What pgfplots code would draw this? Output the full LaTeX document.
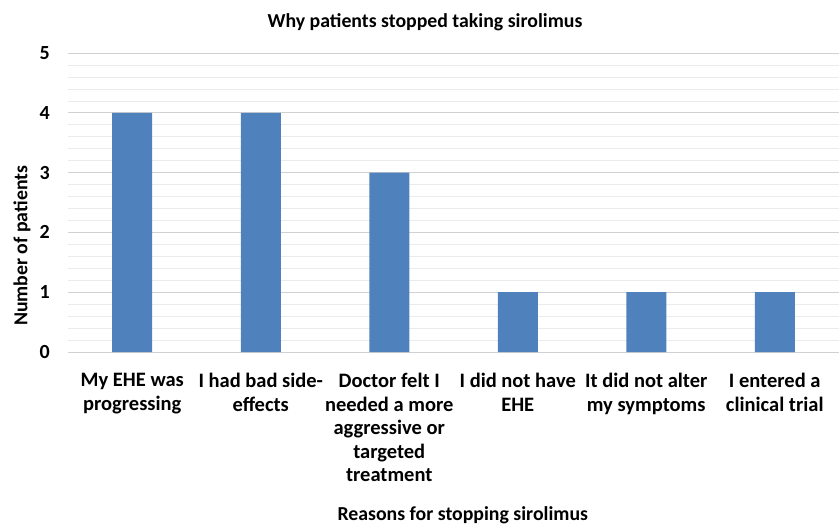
\documentclass[border=0pt]{standalone}
\usepackage{pgfplots}
\pgfplotsset{compat=1.18}
\usepackage{fontspec}
\setmainfont{Carlito}
\definecolor{barblue}{HTML}{4F81BD}
\begin{document}
\begin{tikzpicture}
\useasboundingbox (-68pt,-175pt) rectangle (772pt,352pt);
\begin{axis}[
  at={(0pt,0pt)}, anchor=south west,
  scale only axis, width=771pt, height=299pt,
  xmin=-0.5, xmax=5.5, ymin=0, ymax=5,
  xtick={0,1,2,3,4,5},
  xticklabels={{My EHE was\\progressing},{I had bad side-\\effects},{Doctor felt I\\needed a more\\aggressive or\\targeted\\treatment},{I did not have\\EHE},{It did not alter\\my symptoms},{I entered a\\clinical trial}},
  x tick label style={align=center, font=\fontsize{20.5}{23.6}\selectfont\bfseries, anchor=north, inner sep=0pt, yshift=-21pt},
  ytick={0,1,2,3,4,5},
  minor y tick num=4,
  y tick label style={font=\fontsize{20}{23}\selectfont\bfseries, anchor=east, inner sep=0pt, xshift=-18pt},
  /pgf/number format/assume math mode=true,
  axis line style={draw=none},
  major tick length=0pt, minor tick length=0pt,
  ymajorgrids, yminorgrids,
  major grid style={draw=black!18, line width=0.8pt},
  minor grid style={draw=black!8, line width=0.6pt},
  clip=false,
]
\addplot[ybar, bar width=40pt, fill=barblue, draw=none] coordinates {(0,4) (1,4) (2,3) (3,1) (4,1) (5,1)};
\node[anchor=base, font=\fontsize{19.8}{22}\selectfont\bfseries] at (rel axis cs:0.463,1.084) {Why patients stopped taking sirolimus};
\node[anchor=base, font=\fontsize{19.8}{22}\selectfont\bfseries] at (rel axis cs:0.512,-0.562) {Reasons for stopping sirolimus};
\node[rotate=90, anchor=center, font=\fontsize{19.8}{23}\selectfont\bfseries] at ([xshift=-46pt]rel axis cs:0,0.355) {Number of patients};
\end{axis}
\end{tikzpicture}
\end{document}
